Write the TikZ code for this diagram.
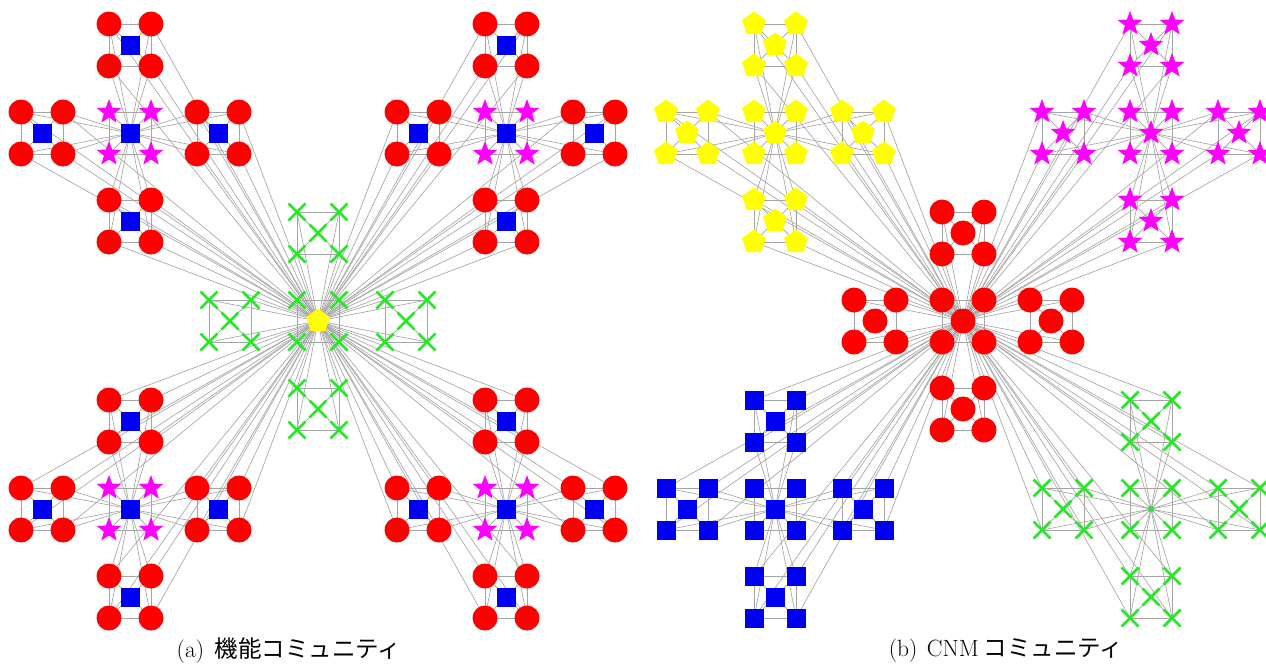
\documentclass[tikz,border=0pt]{standalone}
\usepackage{fontspec}
\newfontfamily\cjk{Noto Sans CJK JP}
\usetikzlibrary{shapes.geometric,shapes.misc}
\pgfdeclarelayer{bg}
\pgfsetlayers{bg,main}
\definecolor{cred}{RGB}{255,0,0}
\definecolor{cblue}{RGB}{0,0,240}
\definecolor{cmag}{RGB}{255,0,255}
\definecolor{cyel}{RGB}{255,255,0}
\definecolor{cgrn}{RGB}{40,230,40}
\definecolor{cgray}{RGB}{165,165,165}
\tikzset{
 nd/.style={inner sep=0pt, outer sep=0pt},
 rci/.style={nd, circle, fill=cred, minimum size=25pt},
 bsq/.style={nd, rectangle, fill=cblue, minimum size=19pt},
 mst/.style={nd, star, star points=5, star point ratio=2.4, fill=cmag, minimum size=26pt},
 ypn/.style={nd, regular polygon, regular polygon sides=5, fill=cyel, minimum size=25pt},
 gx/.style={nd, cross out, draw=cgrn, line width=2.8pt, minimum size=17pt},
 gxs/.style={gx, minimum size=5pt, line width=1.5pt},
 ed/.style={draw=cgray, line width=0.65pt},
 lbl/.style={inner sep=0pt, font=\fontsize{23.5}{26}\selectfont}
}
\newcommand\stya{\ifnum\u=0 \ifnum\m\k=0 \def\sty{ypn}\else\def\sty{gx}\fi\else\ifnum\k=0 \def\sty{bsq}\else\ifnum\m=0 \def\sty{mst}\else\def\sty{rci}\fi\fi\fi}
\newcommand\styb{\ifcase\u\relax \def\sty{rci}\or\def\sty{ypn}\or\def\sty{mst}\or\def\sty{bsq}\or\ifnum\m\k=0 \def\sty{gxs}\else\def\sty{gx}\fi\fi}
\newcommand\panelnodes[2]{%
 \foreach \u/\ux/\uy in {0/0/0,1/-188/-188,2/188/-188,3/-188/188,4/188/188}{
  \foreach \m/\mx/\my in {0/0/0,1/0/-88,2/-88/0,3/88/0,4/0/88}{
   \foreach \k/\kx/\ky in {0/0/0,1/-21/-21,2/21/-21,3/-21/21,4/21/21}{
     \pgfmathsetmacro\X{#2+318+\ux+\mx+\kx}
     \pgfmathsetmacro\Y{321+\uy+\my+\ky}
     \csname sty#1\endcsname
     \edef\tmp{\noexpand\node[\sty] (#1-\u-\m-\k) at (\X,\Y) {};}\tmp
 }}}}
\newcommand\paneledges[1]{%
 \begin{pgfonlayer}{bg}
 \foreach \u in {0,...,4}{
  \foreach \m in {0,...,4}{
   \foreach \i/\j in {0/1,0/2,0/3,0/4,1/2,1/3,1/4,2/3,2/4,3/4}
     \draw[ed] (#1-\u-\m-\i.center) -- (#1-\u-\m-\j.center);
  }
  \foreach \m in {1,...,4}{\foreach \k in {1,...,4}{
     \draw[ed] (#1-\u-\m-\k.center) -- (#1-\u-0-0.center);
     \ifnum\u>0 \draw[ed] (#1-\u-\m-\k.center) -- (#1-0-0-0.center);\fi
  }}
 }
 \end{pgfonlayer}}
\begin{document}
\begin{tikzpicture}[x=1pt,y=-1pt]
\useasboundingbox (0,0) rectangle (1266,664);
\panelnodes{a}{0}
\panelnodes{b}{645}
\paneledges{a}
\paneledges{b}
\node[lbl] (la) at (289,651) {(a)\hspace{0.45em}{\cjk 機能コミュニティ}};
\node[lbl] (lb) at (1006,651) {(b)\hspace{0.4em}CNM\hspace{0.2em}{\cjk コミュニティ}};
\end{tikzpicture}
\end{document}
